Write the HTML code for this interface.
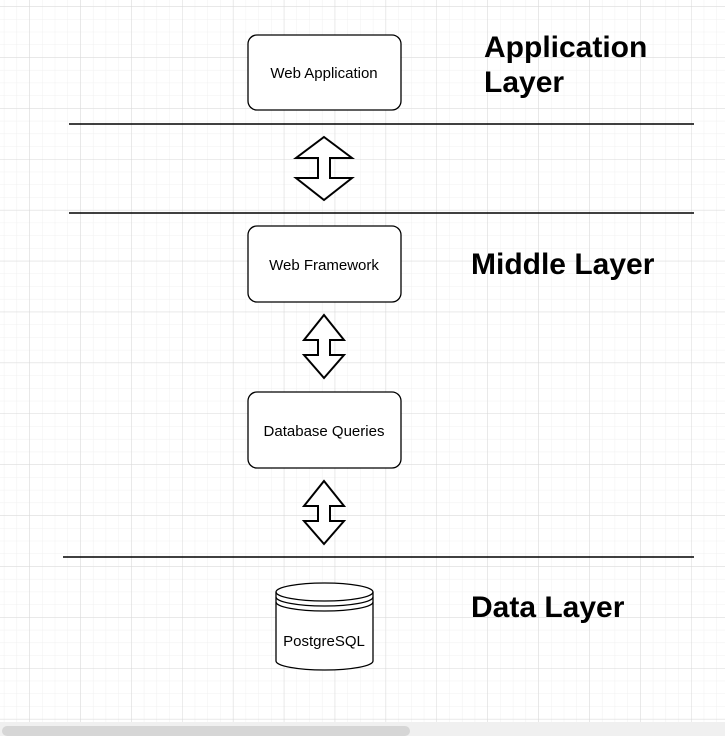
<!DOCTYPE html>
<html><head><style>
html,body{margin:0;padding:0;}
body{width:725px;height:736px;overflow:hidden;position:relative;background:#fff;font-family:"Liberation Sans",sans-serif;}
svg{position:absolute;left:0;top:0;}
</style></head><body>
<svg width="725" height="736" xmlns="http://www.w3.org/2000/svg">
<defs>
<pattern id="minor" x="29.3" y="6.3" width="12.725" height="12.725" patternUnits="userSpaceOnUse">
<path d="M0 0H12.725M0 0V12.725" stroke="#f0f0f0" stroke-width="1" fill="none"/>
</pattern>
<pattern id="major" x="29.3" y="6.3" width="50.9" height="50.9" patternUnits="userSpaceOnUse">
<path d="M0 0H50.9M0 0V50.9" stroke="#d8d8d8" stroke-width="1" fill="none"/>
</pattern>
</defs>
<rect width="725" height="736" fill="url(#minor)"/>
<rect width="725" height="736" fill="url(#major)"/>
<g stroke="#000" stroke-width="1.5">
<line x1="69" y1="124" x2="694" y2="124"/>
<line x1="69" y1="213" x2="694" y2="213"/>
<line x1="63" y1="557" x2="694" y2="557"/>
</g>
<g fill="#fff" stroke="#000" stroke-width="1.3">
<rect x="248" y="35" width="153" height="75" rx="9"/>
<rect x="248" y="226" width="153" height="76" rx="9"/>
<rect x="248" y="392" width="153" height="76" rx="9"/>
<path d="M324 137 L352 158 L330 158 L330 178 L352 178 L324 200 L296 178 L318 178 L318 158 L296 158 Z" stroke-width="2"/>
<path d="M324 315 L344 340 L330 340 L330 355 L344 355 L324 378 L304 355 L318 355 L318 340 L304 340 Z" stroke-width="2"/>
<path d="M324 481 L344 506 L330 506 L330 521 L344 521 L324 544 L304 521 L318 521 L318 506 L304 506 Z" stroke-width="2"/>
<path d="M276 592 A48.5 9 0 0 1 373 592 L373 661 A48.5 9 0 0 1 276 661 Z"/>
<path d="M276 592 A48.5 9 0 0 0 373 592 M276 597 A48.5 9 0 0 0 373 597 M276 602 A48.5 9 0 0 0 373 602" fill="none"/>
</g>
<g font-size="15" text-anchor="middle" fill="#000">
<text x="324" y="78">Web Application</text>
<text x="324" y="270">Web Framework</text>
<text x="324" y="436">Database Queries</text>
<text x="324" y="646">PostgreSQL</text>
</g>
<g font-size="30" font-weight="bold" fill="#000">
<text x="484" y="57">Application</text>
<text x="484" y="92">Layer</text>
<text x="471" y="274">Middle Layer</text>
<text x="471" y="617">Data Layer</text>
</g>
<rect x="0" y="722" width="725" height="14" fill="#f0f0f0"/>
<rect x="2" y="726" width="408" height="10" rx="5" fill="#d6d6d6"/>
</svg>
</body></html>
